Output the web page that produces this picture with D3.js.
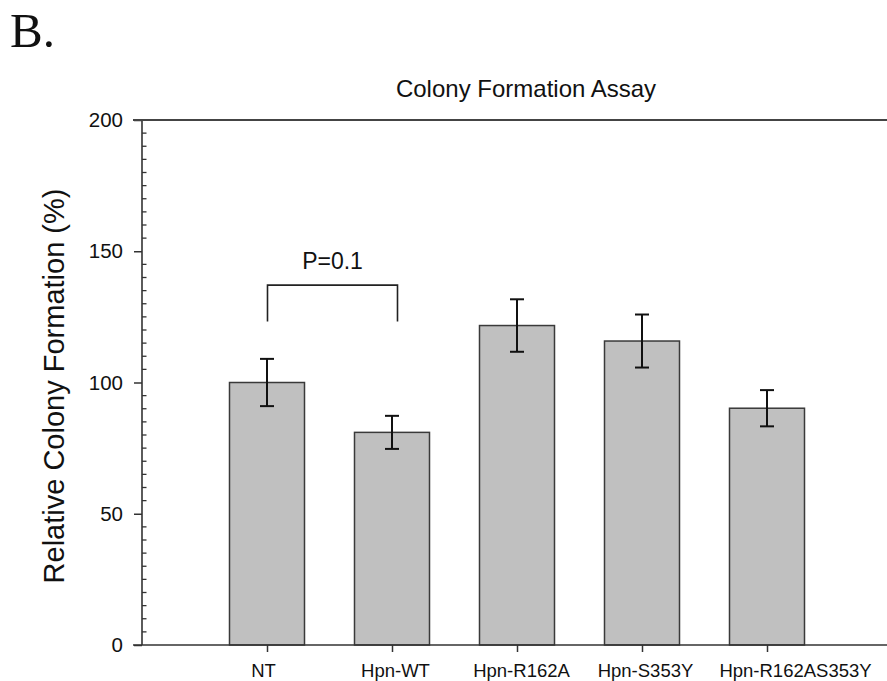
<!DOCTYPE html>
<html>
<head>
<meta charset="utf-8">
<script src="https://cdn.jsdelivr.net/npm/d3@7"></script>
<style>
  html, body { margin: 0; padding: 0; background: #fff; }
  svg { display: block; }
  text { font-family: "Liberation Sans", Arial, sans-serif; fill: #111; }
</style>
</head>
<body>
<svg id="chart" width="887" height="681"></svg>
<script>
const categories = ["NT", "Hpn-WT", "Hpn-R162A", "Hpn-S353Y", "Hpn-R162AS353Y"];
const values = [100, 81, 121.7, 115.8, 90.2];
const errors = [9, 6.3, 10, 10.1, 6.9];
const yTicks = [0, 50, 100, 150, 200];
const bracketLevels = [137.1, 123.2];
const pLabel = "P=0.1";

const svg = d3.select("#chart");
const x = d3.scaleLinear().domain([0, 6]).range([142, 892]);
const y = d3.scaleLinear().domain([0, 200]).range([645, 120]);
const barW = x(0.6) - x(0);

// panel letter
svg.append("text").attr("x", 10).attr("y", 47)
  .style("font-family", "'Liberation Serif', 'Times New Roman', serif")
  .style("font-size", "49px").text("B.");

// title
svg.append("text").attr("x", 526).attr("y", 97).attr("text-anchor", "middle")
  .style("font-size", "24px").text("Colony Formation Assay");

// y label
svg.append("text").attr("transform", "translate(64,386) rotate(-90)")
  .attr("text-anchor", "middle").style("font-size", "29px")
  .text("Relative Colony Formation (%)");

// bars
svg.append("g").selectAll("rect").data(values).join("rect")
  .attr("x", (d, i) => x(i + 1) - barW / 2)
  .attr("y", d => y(d))
  .attr("width", barW)
  .attr("height", d => y(0) - y(d))
  .attr("fill", "#c0c0c0")
  .attr("stroke", "#3a3a3a").attr("stroke-width", 1.5);

// error bars
const eb = svg.append("g").attr("stroke", "#111").attr("stroke-width", 2);
values.forEach((v, i) => {
  const cx = x(i + 1);
  eb.append("line").attr("x1", cx).attr("x2", cx).attr("y1", y(v + errors[i])).attr("y2", y(v - errors[i]));
  eb.append("line").attr("x1", cx - 7).attr("x2", cx + 7).attr("y1", y(v + errors[i])).attr("y2", y(v + errors[i]));
  eb.append("line").attr("x1", cx - 7).attr("x2", cx + 7).attr("y1", y(v - errors[i])).attr("y2", y(v - errors[i]));
});

// y axis: major ticks outside
const yAxis = d3.axisLeft(y).tickValues(yTicks).tickSize(8).tickPadding(11).tickFormat(d3.format("d"));
const gy = svg.append("g").attr("transform", "translate(142,0)").call(yAxis);
gy.select(".domain").remove();
gy.selectAll(".tick line").attr("stroke", "#333").attr("stroke-width", 1.5);
gy.selectAll(".tick text").style("font-size", "20.5px").style("font-family", "'Liberation Sans', Arial, sans-serif").attr("fill", "#111");
// minor ticks inside
const minor = d3.range(0, 201, 5).filter(d => d % 50 !== 0);
svg.append("g").selectAll("line").data(minor).join("line")
  .attr("x1", 142).attr("x2", 146.5)
  .attr("y1", d => y(d)).attr("y2", d => y(d))
  .attr("stroke", "#333").attr("stroke-width", 1.3);
// y axis line
svg.append("line").attr("x1", 142).attr("x2", 142).attr("y1", y(200)).attr("y2", y(0))
  .attr("stroke", "#333").attr("stroke-width", 1.6);

// x axis
const labelShift = [-4, 3, 4, 3, 28];
const xAxis = d3.axisBottom(x).tickValues(d3.range(1, 6)).tickSize(7).tickPadding(12)
  .tickFormat(d => categories[d - 1]);
const gx = svg.append("g").attr("transform", `translate(0,${y(0)})`).call(xAxis);
gx.select(".domain").remove();
gx.selectAll(".tick line").attr("stroke", "#333").attr("stroke-width", 1.5);
gx.selectAll(".tick text").style("font-size", "18.5px").style("font-family", "'Liberation Sans', Arial, sans-serif").attr("fill", "#111")
  .attr("dx", d => labelShift[d - 1]);
svg.append("line").attr("x1", 133).attr("x2", 887).attr("y1", y(0)).attr("y2", y(0))
  .attr("stroke", "#333").attr("stroke-width", 1.6);
// top frame line
svg.append("line").attr("x1", 133).attr("x2", 887).attr("y1", y(200)).attr("y2", y(200))
  .attr("stroke", "#444").attr("stroke-width", 2.2);

// significance bracket
const bx1 = x(1) + 0.5, bx2 = x(2) + 5.5;
svg.append("path")
  .attr("d", `M${bx1},${y(bracketLevels[1])}V${y(bracketLevels[0])}H${bx2}V${y(bracketLevels[1])}`)
  .attr("fill", "none").attr("stroke", "#222").attr("stroke-width", 1.6);
svg.append("text").attr("x", (bx1 + bx2) / 2).attr("y", 269).attr("text-anchor", "middle")
  .style("font-size", "23px").text(pLabel);
</script>
</body>
</html>
